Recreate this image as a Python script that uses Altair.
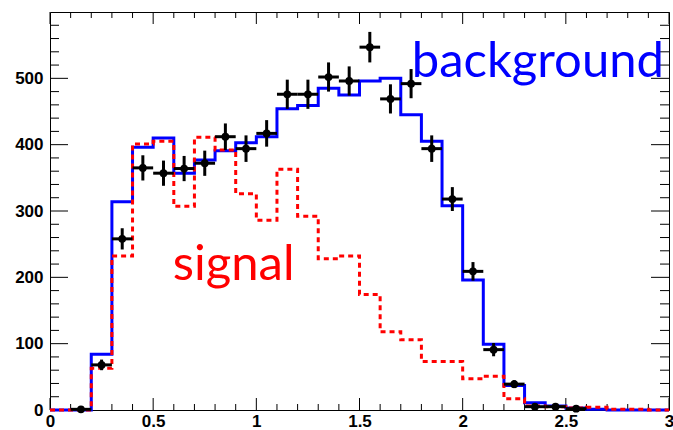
import altair as alt
import pandas as pd

# ---------------- data ----------------
bin_edges = [0.0, 0.1, 0.2, 0.3, 0.4, 0.5, 0.6, 0.7, 0.8, 0.9,
             1.0, 1.1, 1.2, 1.3, 1.4, 1.5, 1.6, 1.7, 1.8, 1.9,
             2.0, 2.1, 2.2, 2.3, 2.4, 2.5, 2.6, 2.7, 2.8, 2.9, 3.0]
background = [0, 0, 84, 314, 396, 410, 357, 377, 391, 403,
              412, 454, 459, 485, 475, 496, 500, 445, 405, 308,
              196, 99, 37, 11, 6, 3, 1, 0, 0, 0]
signal = [0, 0, 63, 232, 401, 405, 307, 411, 392, 326,
          286, 363, 292, 228, 232, 174, 118, 106, 73, 73,
          47, 51, 17, 6, 5, 3, 4, 1, 1, 0]
data_x = [0.15, 0.25, 0.35, 0.45, 0.55, 0.65, 0.75, 0.85, 0.95, 1.05,
          1.15, 1.25, 1.35, 1.45, 1.55, 1.65, 1.75, 1.85, 1.95, 2.05,
          2.15, 2.25, 2.35, 2.45, 2.55]
data_y = [1, 68, 258, 365, 357, 364, 372, 412, 394, 417,
          476, 476, 502, 496, 547, 469, 492, 394, 318, 209,
          91, 39, 5, 5, 2]
data_err = [1, 8, 16, 19, 19, 19, 19, 20, 20, 20,
            22, 22, 22, 22, 23, 22, 22, 20, 18, 14,
            10, 6, 2, 2, 1]
half_bin = 0.05

x_labels = [0, 0.5, 1, 1.5, 2, 2.5, 3]
y_labels = [0, 100, 200, 300, 400, 500]
x_minor = [0.1, 0.2, 0.3, 0.4, 0.6, 0.7, 0.8, 0.9, 1.1, 1.2, 1.3, 1.4,
           1.6, 1.7, 1.8, 1.9, 2.1, 2.2, 2.3, 2.4, 2.6, 2.7, 2.8, 2.9]
y_minor = [20, 40, 60, 80, 120, 140, 160, 180, 220, 240, 260, 280,
           320, 340, 360, 380, 420, 440, 460, 480, 520, 540, 560, 580]

texts = ["background", "signal"]
text_x = [1.753, 0.595]
text_y = [502, 196]
text_colors = ["#0000ff", "#ff0000"]

W, H = 619, 398
xs = alt.Scale(domain=[0, 3], nice=False, zero=False)
ys = alt.Scale(domain=[0, 600], nice=False, zero=False)
x_axis = alt.Axis(values=x_labels, format="~g", ticks=False, domain=False, grid=False,
                  labelPadding=3, labelFlush=False, labelOverlap=False)
y_axis = alt.Axis(values=y_labels, ticks=False, domain=False, grid=False,
                  labelPadding=7, labelFlush=False, labelOverlap=False)

# ---------------- tables ----------------
bkg_df = pd.DataFrame({"x": bin_edges, "y": background + [background[-1]]})
sig_df = pd.DataFrame({"x": bin_edges, "y": signal + [signal[-1]]})
pts = pd.DataFrame({"x": data_x, "y": data_y, "e": data_err})
pts["x_lo"] = pts["x"] - half_bin
pts["x_hi"] = pts["x"] + half_bin
pts["y_lo"] = pts["y"] - pts["e"]
pts["y_hi"] = pts["y"] + pts["e"]
txt_df = pd.DataFrame({"t": texts, "x": text_x, "y": text_y, "c": text_colors})

X = lambda f="x": alt.X(f"{f}:Q", scale=xs, axis=x_axis, title=None)
Y = lambda f="y": alt.Y(f"{f}:Q", scale=ys, axis=y_axis, title=None)

layers = []

# ---------------- inward ticks ----------------
def xticks(vals, length):
    d = pd.DataFrame({"x": vals})
    bot = alt.Chart(d).mark_rule(color="black", strokeWidth=1).encode(
        x=X(), y=alt.value(H), y2=alt.value(H - length))
    top = alt.Chart(d).mark_rule(color="black", strokeWidth=1).encode(
        x=X(), y=alt.value(0), y2=alt.value(length))
    return [bot, top]

def yticks(vals, length):
    d = pd.DataFrame({"y": vals})
    left = alt.Chart(d).mark_rule(color="black", strokeWidth=1).encode(
        y=Y(), x=alt.value(0), x2=alt.value(length))
    right = alt.Chart(d).mark_rule(color="black", strokeWidth=1).encode(
        y=Y(), x=alt.value(W), x2=alt.value(W - length))
    return [left, right]

layers += xticks(x_labels, 12) + xticks(x_minor, 6)
layers += yticks(y_labels, 18) + yticks(y_minor, 9)

# ---------------- histograms ----------------
bkg = alt.Chart(bkg_df).mark_line(interpolate="step-after", color="#0000ff", strokeWidth=3).encode(
    x=X(), y=Y())
sig = alt.Chart(sig_df).mark_line(interpolate="step-after", color="#ff0000", strokeWidth=3,
                                  strokeDash=[5, 4]).encode(x=X(), y=Y())
layers += [bkg, sig]

# ---------------- data points ----------------
hbar = alt.Chart(pts).mark_rule(color="black", strokeWidth=3).encode(
    x=X("x_lo"), x2="x_hi:Q", y=Y())
vbar = alt.Chart(pts).mark_rule(color="black", strokeWidth=3).encode(
    x=X(), y=Y("y_lo"), y2="y_hi:Q")
dots = alt.Chart(pts).mark_circle(color="black", opacity=1, size=60).encode(x=X(), y=Y())
layers += [hbar, vbar, dots]

# ---------------- labels ----------------
txt = alt.Chart(txt_df).mark_text(font="Lato", fontSize=49, align="left",
                                  baseline="alphabetic").encode(
    x=X(), y=Y(), text="t:N", color=alt.Color("c:N", scale=None))
layers.append(txt)

chart = alt.layer(*layers).properties(
    width=W, height=H,
    padding={"left": 50, "top": 12, "right": 4, "bottom": 20},
    autosize="none",
).configure_view(stroke="black", strokeWidth=1).configure_axis(
    labelFont="Liberation Sans", labelFontWeight="bold", labelFontSize=17, labelColor="black"
)

chart.save("out.html", embed_options={"renderer": "svg", "actions": False})
